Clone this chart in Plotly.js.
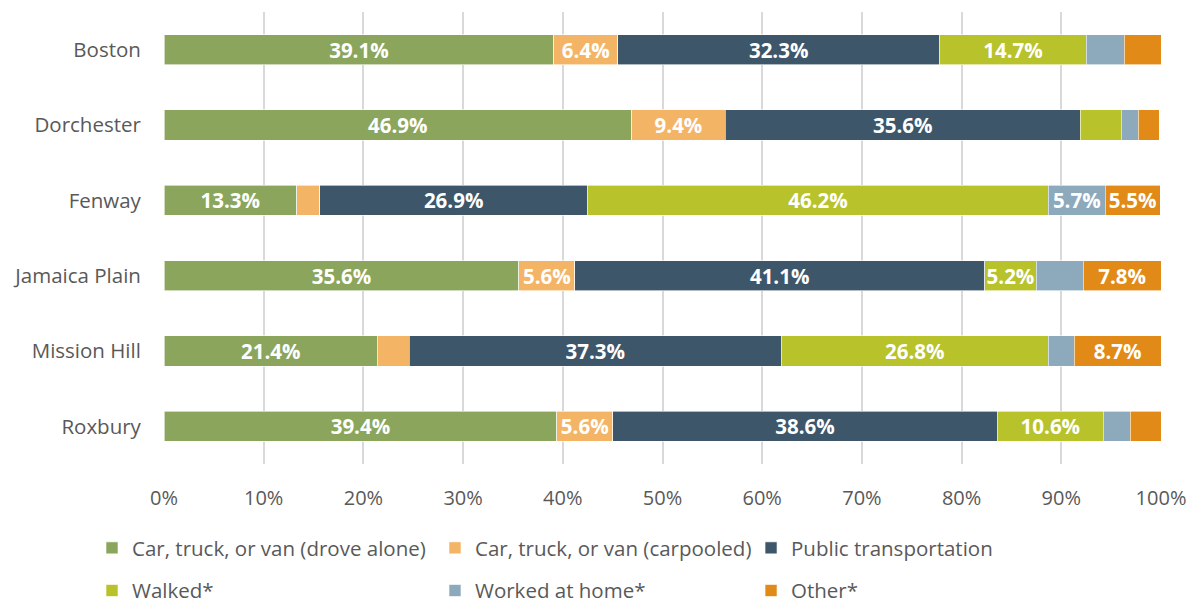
<!DOCTYPE html>
<html><head><meta charset="utf-8">
<script src="https://cdn.plot.ly/plotly-3.0.1.min.js"></script>
<style>html,body{margin:0;padding:0;background:#fff}#chart{width:1189px;height:604px}</style>
</head><body><div id="chart"></div>
<script>
const neighborhoods = ["Boston","Dorchester","Fenway","Jamaica Plain","Mission Hill","Roxbury"];
const droveAlone = [39.1, 46.9, 13.3, 35.6, 21.4, 39.4];
const carpooled  = [6.4, 9.4, 2.3, 5.6, 3.2, 5.6];
const publicTransit = [32.3, 35.6, 26.9, 41.1, 37.3, 38.6];
const walked     = [14.7, 4.1, 46.2, 5.2, 26.8, 10.6];
const workedHome = [3.8, 1.7, 5.7, 4.7, 2.6, 2.7];
const other      = [3.7, 2.1, 5.5, 7.8, 8.7, 3.1];
const tickVals = [0,10,20,30,40,50,60,70,80,90,100];
const tickText = ["0%","10%","20%","30%","40%","50%","60%","70%","80%","90%","100%"];

const series = [
  {name:"Car, truck, or van (drove alone)", v:droveAlone, c:"#8BA65C", lg:"legend"},
  {name:"Car, truck, or van (carpooled)", v:carpooled, c:"#F4B465", lg:"legend2"},
  {name:"Public transportation", v:publicTransit, c:"#3D566A", lg:"legend3"},
  {name:"Walked*", v:walked, c:"#B8C22B", lg:"legend"},
  {name:"Worked at home*", v:workedHome, c:"#8DAABD", lg:"legend2"},
  {name:"Other*", v:other, c:"#E18A17", lg:"legend3"}
];
const font = "'Open Sans', 'Segoe UI', sans-serif";
const traces = series.map((s,i)=>({
  type:"bar", orientation:"h", name:s.name, x:s.v, y:neighborhoods,
  marker:{color:s.c, line:{color:"#ffffff", width:0.6}},
  text:s.v.map(v=> v>=5 ? v.toFixed(1)+"%" : ""),
  textposition:"inside", insidetextanchor:"middle", textangle:0,
  constraintext:"none",
  textfont:{color:"#ffffff", size:20.5, family:font, weight:"bold"},
  hoverinfo:"name+x", legend:s.lg, legendgroup:"g"+i
}));
const legBase = {orientation:"v", font:{size:20.5, color:"#595959", family:font},
  bgcolor:"rgba(0,0,0,0)", yanchor:"top", xanchor:"left", xref:"paper", yref:"container",
  tracegroupgap:13, itemwidth:30, traceorder:"grouped"};
const layout = {
  width:1189, height:604,
  margin:{l:164, r:28, t:12, b:140, autoexpand:false},
  paper_bgcolor:"#ffffff", plot_bgcolor:"#ffffff",
  barmode:"stack", bargap:0.6,
  font:{family:font, color:"#595959"},
  showlegend:true,
  xaxis:{range:[0,100], tickvals:tickVals, ticktext:tickText, showgrid:true,
    gridcolor:"#D9D9D9", gridwidth:2, zeroline:false, showline:false, automargin:false,
    tickfont:{size:20, color:"#595959", family:font}, ticks:"outside", ticklen:16, tickcolor:"rgba(0,0,0,0)", fixedrange:true},
  yaxis:{autorange:"reversed", showgrid:false, zeroline:false, showline:false, automargin:false,
    tickfont:{size:20.5, color:"#595959", family:font}, ticks:"outside", ticklen:18, tickcolor:"rgba(0,0,0,0)"},
  legend:Object.assign({}, legBase, {x:-0.0722, y:0.1258}),
  legend2:Object.assign({}, legBase, {x:0.2718, y:0.1258}),
  legend3:Object.assign({}, legBase, {x:0.5888, y:0.1258})
};
Plotly.newPlot("chart", traces, layout, {displayModeBar:false, staticPlot:true});
</script></body></html>
